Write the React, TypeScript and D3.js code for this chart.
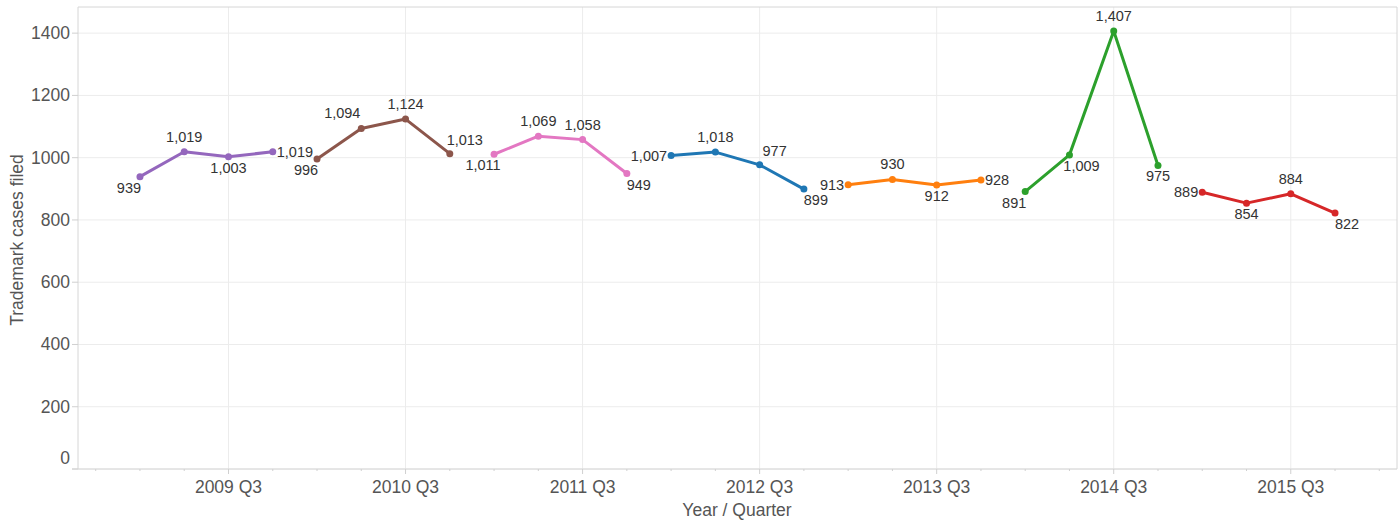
import React from "react";
import * as d3 from "d3";

const years = [2009, 2010, 2011, 2012, 2013, 2014, 2015];
const quarters = ["Q1", "Q2", "Q3", "Q4"];
const cases2009 = [939, 1019, 1003, 1019];
const cases2010 = [996, 1094, 1124, 1013];
const cases2011 = [1011, 1069, 1058, 949];
const cases2012 = [1007, 1018, 977, 899];
const cases2013 = [913, 930, 912, 928];
const cases2014 = [891, 1009, 1407, 975];
const cases2015 = [889, 854, 884, 822];
const seriesValues = [cases2009, cases2010, cases2011, cases2012, cases2013, cases2014, cases2015];
const seriesColors = ["#9467bd", "#8c564b", "#e377c2", "#1f77b4", "#ff7f0e", "#2ca02c", "#d62728"];
const labelPlacement = [
  ["bl", "t", "b", "r"],
  ["bl", "tl", "t", "tr"],
  ["bl", "t", "t", "br"],
  ["l", "t", "tr", "br"],
  ["l", "t", "b", "r"],
  ["bl", "br", "t", "b"],
  ["l", "b", "t", "br"],
];
const yTicks = [0, 200, 400, 600, 800, 1000, 1200, 1400];

const W = 1398;
const H = 521;
const left = 78;
const right = 1397;
const top = 7;
const bottom = 469;

const x = d3.scaleLinear().domain([-1.4, 28.4]).range([left, right]);
const y = d3.scaleLinear().domain([0, 1484]).range([bottom, top]);
const fmt = d3.format(",");

const offsets: Record<string, { dx: number; dy: number; anchor: string }> = {
  t: { dx: 0, dy: -15, anchor: "middle" },
  b: { dx: 0, dy: 11, anchor: "middle" },
  l: { dx: -4, dy: 0, anchor: "end" },
  r: { dx: 4, dy: 0, anchor: "start" },
  bl: { dx: -11, dy: 11, anchor: "middle" },
  br: { dx: 12, dy: 11, anchor: "middle" },
  tl: { dx: -19, dy: -15, anchor: "middle" },
  tr: { dx: 15, dy: -14, anchor: "middle" },
};

export default function App() {
  const font = "'Liberation Sans', Arial, sans-serif";
  const axisFont = 17.5;
  const line = d3
    .line<{ i: number; v: number }>()
    .x((d) => x(d.i))
    .y((d) => y(d.v));
  const quarterIdx = d3.range(-1, 29);
  const majorIdx = years.map((_, k) => k * 4 + 2);

  return (
    <svg
      width={W}
      height={H}
      style={{ position: "absolute", left: 0, top: 0, background: "#fff" }}
      fontFamily={font}
    >
      {yTicks.map((t) => (
        <line key={"hg" + t} x1={left} x2={right} y1={y(t)} y2={y(t)} stroke="#ececec" strokeWidth={1} />
      ))}
      {majorIdx.map((i) => (
        <line key={"vg" + i} x1={x(i)} x2={x(i)} y1={top} y2={bottom} stroke="#ececec" strokeWidth={1} />
      ))}
      <line x1={left} x2={right} y1={top} y2={top} stroke="#d6d6d6" />
      <line x1={right} x2={right} y1={top} y2={bottom} stroke="#d6d6d6" />
      <line x1={left} x2={left} y1={top} y2={bottom} stroke="#d6d6d6" />
      <line x1={72} x2={right} y1={bottom} y2={bottom} stroke="#d6d6d6" />
      {yTicks.map((t) => (
        <g key={"yt" + t}>
          <line x1={72} x2={left} y1={y(t)} y2={y(t)} stroke="#d0d0d0" />
          <text
            x={70}
            y={t === 0 ? y(t) - 11 : y(t)}
            textAnchor="end"
            dominantBaseline="central"
            fontSize={axisFont}
            fill="#555"
          >
            {t}
          </text>
        </g>
      ))}
      {quarterIdx.map((i) => (
        <line
          key={"xt" + i}
          x1={x(i)}
          x2={x(i)}
          y1={bottom}
          y2={bottom + (i % 4 === 2 ? 5 : 2)}
          stroke="#d0d0d0"
        />
      ))}
      {majorIdx.map((i, k) => (
        <text key={"xl" + i} x={x(i)} y={487} textAnchor="middle" dominantBaseline="central" fontSize={axisFont} fill="#555">
          {years[k] + " " + quarters[2]}
        </text>
      ))}
      <text x={737} y={510} textAnchor="middle" dominantBaseline="central" fontSize={axisFont} fill="#555">
        Year / Quarter
      </text>
      <text
        transform={`translate(17,240) rotate(-90)`}
        textAnchor="middle"
        dominantBaseline="central"
        fontSize={axisFont}
        fill="#555"
      >
        Trademark cases filed
      </text>
      {seriesValues.map((vals, s) => {
        const pts = vals.map((v, q) => ({ i: s * 4 + q, v }));
        return (
          <g key={"s" + s}>
            <path d={line(pts) || ""} fill="none" stroke={seriesColors[s]} strokeWidth={3} strokeLinejoin="round" />
            {pts.map((p, q) => (
              <circle key={"c" + q} cx={x(p.i)} cy={y(p.v)} r={3.5} fill={seriesColors[s]} />
            ))}
          </g>
        );
      })}
      {seriesValues.map((vals, s) =>
        vals.map((v, q) => {
          const o = offsets[labelPlacement[s][q]];
          return (
            <text
              key={"lb" + s + "-" + q}
              x={x(s * 4 + q) + o.dx}
              y={y(v) + o.dy}
              textAnchor={o.anchor}
              dominantBaseline="central"
              fontSize={14.5}
              fill="#333"
            >
              {fmt(v)}
            </text>
          );
        })
      )}
    </svg>
  );
}
